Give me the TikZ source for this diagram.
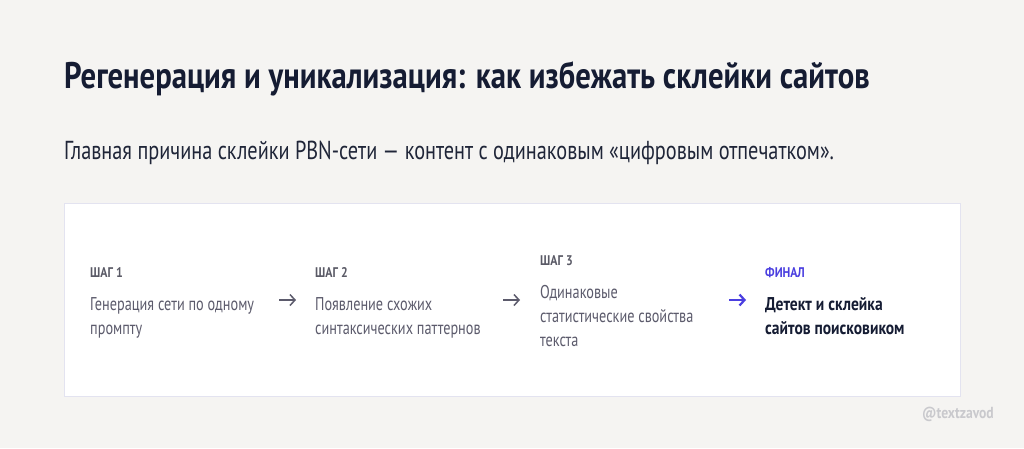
\documentclass[tikz,border=0pt]{standalone}
\usepackage{fontspec}
\setmainfont[FakeStretch=0.78]{PT Sans}
\newfontfamily\ttl[FakeStretch=0.83]{PT Sans}
\newfontfamily\bodyf[FakeStretch=0.77]{PT Sans}
\newfontfamily\labf[FakeStretch=0.85]{PT Sans}
\newfontfamily\boldf[FakeStretch=0.84]{PT Sans}
\usetikzlibrary{arrows.meta}
\definecolor{bg}{HTML}{F5F4F2}
\definecolor{ink}{HTML}{151C33}
\definecolor{sub}{HTML}{1F2538}
\definecolor{gr}{HTML}{5C5B6C}
\definecolor{lab}{HTML}{5A5A66}
\definecolor{pur}{HTML}{4B3FE0}
\definecolor{cardline}{HTML}{E3E3F0}
\definecolor{wm}{HTML}{C9C9CD}
\tikzset{
  lbl/.style={anchor=base west, inner sep=0pt, text=lab, font=\labf\bfseries\fontsize{14}{14}\selectfont},
  body/.style={anchor=north west, inner sep=0pt, text=gr, align=left, font=\bodyf\fontsize{18.5}{24}\selectfont},
  arr/.style={-{Straight Barb[length=5pt,width=11pt]}, line width=1.5pt, draw=gr}
}
\begin{document}
\begin{tikzpicture}[x=1pt,y=-1pt]
\fill[bg] (0,0) rectangle (1024,448);
\useasboundingbox (0,0) rectangle (1024,448);
\node[anchor=base west, inner sep=0pt, text=ink, font=\ttl\bfseries\fontsize{37}{37}\selectfont] (title) at (64,88) {Регенерация и уникализация: как избежать склейки сайтов};
\node[anchor=base west, inner sep=0pt, text=sub, font=\fontsize{26}{26}\selectfont] (subtitle) at (64,159) {Главная причина склейки PBN-сети — контент с одинаковым «цифровым отпечатком».};
\node[draw=cardline, line width=0.8pt, fill=white, minimum width=896pt, minimum height=193pt, anchor=north west, inner sep=0pt] (card) at (64,203) {};
% step 1
\node[lbl] (l1) at (90,277) {ШАГ 1};
\node[body] (b1) at (90,297) {Генерация сети по одному\\промпту};
% step 2
\node[lbl] (l2) at (315,277) {ШАГ 2};
\node[body] (b2) at (315,297) {Появление схожих\\синтаксических паттернов};
% step 3
\node[lbl] (l3) at (540,265) {ШАГ 3};
\node[body] (b3) at (540,285) {Одинаковые\\статистические свойства\\текста};
% final
\node[lbl, text=pur] (l4) at (765,277) {ФИНАЛ};
\node[body, text=ink, font=\boldf\bfseries\fontsize{18.5}{24}\selectfont] (b4) at (765,297) {Детект и склейка\\сайтов поисковиком};
% arrows
\coordinate (a1s) at (279,300); \coordinate (a1e) at (296,300);
\coordinate (a2s) at (503,300); \coordinate (a2e) at (520,300);
\coordinate (a3s) at (729,300); \coordinate (a3e) at (746,300);
\draw[arr] (a1s) -- (a1e);
\draw[arr] (a2s) -- (a2e);
\draw[arr, draw=pur, line width=2.2pt] (a3s) -- (a3e);
\node[anchor=base west, inner sep=0pt, text=wm, font=\labf\bfseries\fontsize{16}{16}\selectfont] (wmk) at (922,418) {@textzavod};
\end{tikzpicture}
\end{document}
